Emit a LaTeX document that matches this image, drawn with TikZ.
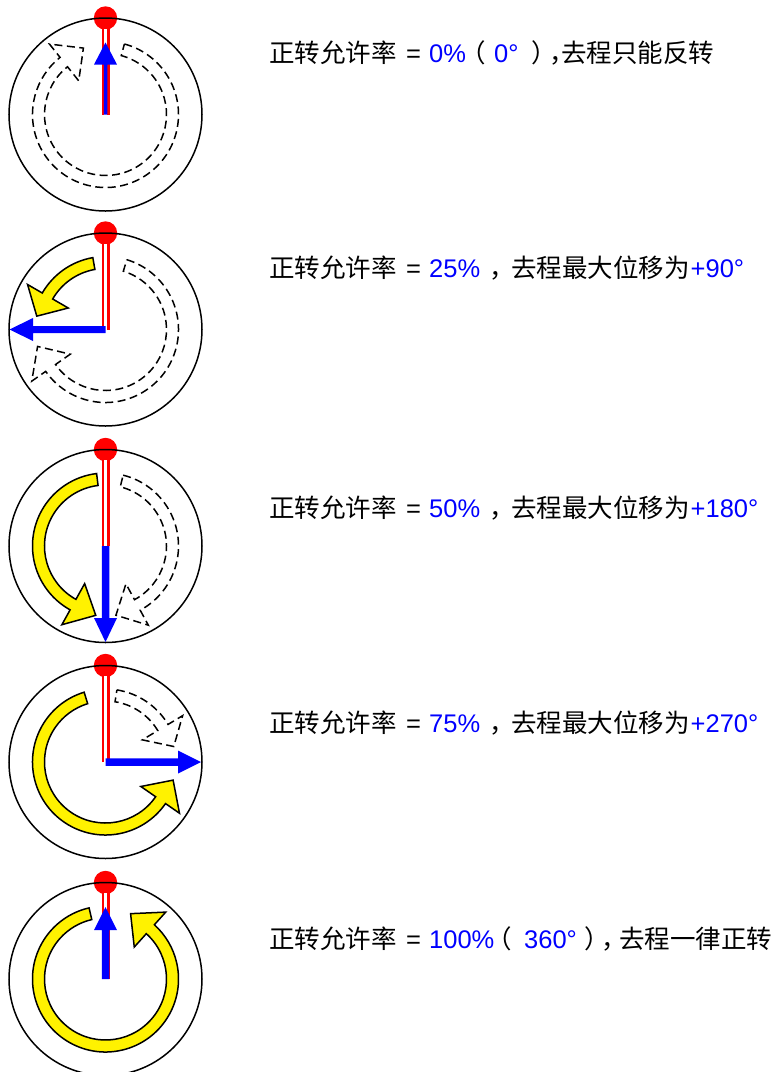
\documentclass[tikz,border=0pt]{standalone}
\usepackage{fontspec}
\setmainfont{Liberation Sans}
\newfontfamily\cjk{Noto Sans CJK SC}
\newfontfamily\cjkh[RawFeature={+halt}]{Noto Sans CJK SC}
\newcommand\curvarr[4]{% style, tail angle, head-base angle, tip angle
  \path[#1] (#2:73) arc[start angle=#2, end angle=#3, radius=73] -- (#3:90) -- (#4:70) -- (#3:43) -- (#3:61) arc[start angle=#3, end angle=#2, radius=61] -- cycle;}
\newcommand\bluearrow[4]{% angle, half shaft width, head-base radius, tip radius
  \fill[blue, rotate=#1] (0,-#2) -- (#3,-#2) -- (#3,-11.5) -- (#4,0) -- (#3,11.5) -- (#3,#2) -- (0,#2) -- cycle;}
\newcommand\dial{% dot and circle
  \fill[red] (0,96.5) circle (11.7);
  \draw[black, line width=1.5pt] (0,0) circle (96.5);}
\newcommand\redline{\draw[red, line width=2.2pt, double=white, double distance=3.6pt] (0,0) -- (0,86);}
\newcommand\seg[2]{\rlap{\hspace*{#1pt}#2}}
\begin{document}
\begin{tikzpicture}[x=1pt,y=1pt,
  fwd/.style={fill=yellow, draw=black, line width=1.5pt, line join=miter},
  rev/.style={draw=black, line width=1.5pt, dash pattern=on 8pt off 4.5pt},
  lbl/.style={anchor=base west, inner sep=0pt, font=\fontsize{25.5pt}{30pt}\selectfont}]
\useasboundingbox (0,0) rectangle (783,-1072);
% ---- dial 1: 0%
\begin{scope}[shift={(105.5,-114.5)}]
  \dial
  \curvarr{rev}{75}{-231.5}{-251.6}
  \redline
  \bluearrow{90}{1.75}{50}{72}
\end{scope}
% ---- dial 2: 25%
\begin{scope}[shift={(105.5,-329.5)}]
  \dial
  \curvarr{rev}{73}{-145}{-166}
  \curvarr{fwd}{100}{150}{169}
  \redline
  \bluearrow{180}{3.5}{72.5}{96}
\end{scope}
% ---- dial 3: 50%
\begin{scope}[shift={(105.5,-546)}]
  \dial
  \curvarr{rev}{76}{-61.6}{-81.4}
  \curvarr{fwd}{97}{241}{262}
  \redline
  \bluearrow{270}{3.75}{72}{96}
\end{scope}
% ---- dial 4: 75%
\begin{scope}[shift={(105.5,-762)}]
  \dial
  \curvarr{rev}{81}{31}{12.8}
  \curvarr{fwd}{107}{325.3}{345}
  \redline
  \bluearrow{0}{3.75}{72.5}{95.5}
\end{scope}
% ---- dial 5: 100%
\begin{scope}[shift={(105.5,-979)}]
  \dial
  \curvarr{fwd}{103}{408}{429}
  \redline
  \bluearrow{90}{3.75}{49}{72}
\end{scope}
% ---- labels
\node[lbl] (t1) at (269,-62.3) {\seg{0}{\cjk 正转允许率}\seg{136.8}{=}\seg{160}{\color{blue}0\%}\seg{204}{\cjkh （}\seg{225}{\color{blue}0°}\seg{262}{\cjkh ）}\seg{280.5}{\cjkh ，}\seg{292}{\cjk 去程只能反转}\hspace*{446pt}};
\node[lbl] (t2) at (269,-277.5) {\seg{0}{\cjk 正转允许率}\seg{136.8}{=}\seg{160}{\color{blue}25\%}\seg{220.5}{\cjk ，}\seg{242}{\cjk 去程最大位移为}\seg{421.5}{\color{blue}+90°}\hspace*{482pt}};
\node[lbl] (t3) at (269,-517.5) {\seg{0}{\cjk 正转允许率}\seg{136.8}{=}\seg{160}{\color{blue}50\%}\seg{220.5}{\cjk ，}\seg{242}{\cjk 去程最大位移为}\seg{421.5}{\color{blue}+180°}\hspace*{491pt}};
\node[lbl] (t4) at (269,-732.5) {\seg{0}{\cjk 正转允许率}\seg{136.8}{=}\seg{160}{\color{blue}75\%}\seg{220.5}{\cjk ，}\seg{242}{\cjk 去程最大位移为}\seg{421.5}{\color{blue}+270°}\hspace*{491pt}};
\node[lbl] (t5) at (269,-948.5) {\seg{0}{\cjk 正转允许率}\seg{136.8}{=}\seg{160}{\color{blue}100\%}\seg{230}{\cjkh （}\seg{255}{\color{blue}360°}\seg{315}{\cjkh ）}\seg{332.5}{\cjkh ，}\seg{350}{\cjk 去程一律正转}\hspace*{504pt}};
\end{tikzpicture}
\end{document}
